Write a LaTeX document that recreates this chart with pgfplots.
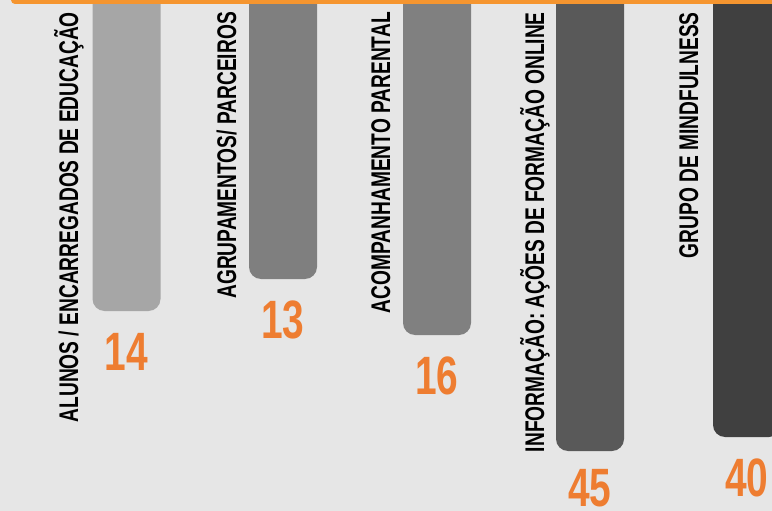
\documentclass[border=0pt]{standalone}
\usepackage{pgfplots}
\pgfplotsset{compat=1.18}
\usepackage{fontspec}
\setmainfont{Liberation Sans}
\newfontfamily\labfont[FakeStretch=0.71]{Liberation Sans}
\newfontfamily\numfont[FakeStretch=0.72]{Liberation Sans}
\definecolor{bg}{HTML}{E6E6E6}
\definecolor{topor}{HTML}{F5952F}
\definecolor{numor}{HTML}{EE7D31}
\definecolor{g1}{HTML}{A6A6A6}
\definecolor{g2}{HTML}{7F7F7F}
\definecolor{g3}{HTML}{808080}
\definecolor{g4}{HTML}{595959}
\definecolor{g5}{HTML}{404040}
\begin{document}
\begin{tikzpicture}
\fill[bg] (0,0) rectangle (772pt,511pt);
\clip (0,0) rectangle (772pt,511pt);
% axis reaches 30pt above the page so the bars' top ends are cut off
\begin{axis}[
    scale only axis,
    width=772pt, height=541pt,
    xmin=0, xmax=772,
    ymin=0, ymax=541,
    y dir=reverse,
    hide axis,
    ybar, bar width=68, bar shift=0pt,
    every axis plot/.append style={draw=none, rounded corners=12pt},
    nodes near coords,
    point meta=explicit symbolic,
    nodes near coords align={anchor=north},
    every node near coord/.append style={font=\numfont\bfseries\fontsize{54}{54}\selectfont,
        text=numor, inner sep=0pt, yshift=-22pt},
]
    % bar length in picture rows (+30), label value in brackets
    \addplot[fill=g1] coordinates {(126.5,341) [14]};
    \addplot[fill=g2] coordinates {(283,309) [13]};
    \addplot[fill=g3] coordinates {(437,365) [16]};
    \addplot[fill=g4, every node near coord/.append style={yshift=4pt}]
        coordinates {(590,481) [45]};
    \addplot[fill=g5] coordinates {(747,467) [40]};

    \fill[topor, rounded corners=4pt] (axis cs:11,18) rectangle (axis cs:800,34);

    \begin{scope}[every node/.style={rotate=90, anchor=base east, inner sep=0pt,
        font=\labfont\bfseries\fontsize{27}{27}\selectfont}]
    \node at (axis cs:78,42) {ALUNOS / ENCARREGADOS DE EDUCAÇÃO};
    \node at (axis cs:236,42) {AGRUPAMENTOS/ PARCEIROS};
    \node at (axis cs:390,42) {ACOMPANHAMENTO PARENTAL};
    \node at (axis cs:544,42) {INFORMAÇÃO: AÇÕES DE FORMAÇÃO ONLINE};
    \node at (axis cs:698,42) {GRUPO DE MINDFULNESS};
    \end{scope}
\end{axis}
\end{tikzpicture}
\end{document}
